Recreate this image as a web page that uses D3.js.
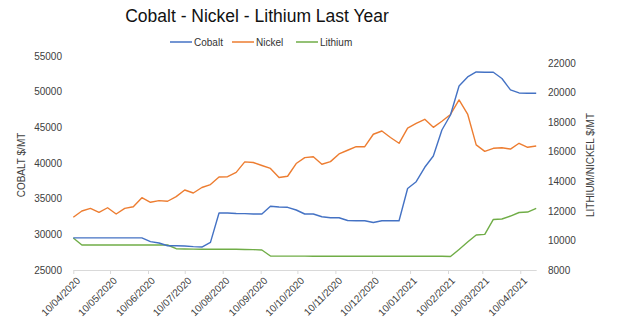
<!DOCTYPE html>
<html>
<head>
<meta charset="utf-8">
<script src="https://cdn.jsdelivr.net/npm/d3@7"></script>
<style>
  html, body { margin: 0; padding: 0; background: #fff; }
  svg { display: block; }
  text { font-family: "Liberation Sans", Arial, sans-serif; fill: #404040; }
</style>
</head>
<body>
<svg id="chart" width="624" height="328"></svg>
<script>
const dates = [
  "2020-04-10","2020-04-17","2020-04-24","2020-05-01","2020-05-08","2020-05-15","2020-05-22","2020-05-29",
  "2020-06-05","2020-06-12","2020-06-19","2020-06-26","2020-07-03","2020-07-10","2020-07-17","2020-07-24","2020-07-31",
  "2020-08-07","2020-08-14","2020-08-21","2020-08-28","2020-09-04","2020-09-11","2020-09-18","2020-09-25",
  "2020-10-02","2020-10-09","2020-10-16","2020-10-23","2020-10-30","2020-11-06","2020-11-13","2020-11-20","2020-11-27",
  "2020-12-04","2020-12-11","2020-12-18","2020-12-25","2021-01-01","2021-01-08","2021-01-15","2021-01-22","2021-01-29",
  "2021-02-05","2021-02-12","2021-02-19","2021-02-26","2021-03-05","2021-03-12","2021-03-19","2021-03-26",
  "2021-04-02","2021-04-09","2021-04-16","2021-04-23"
];
const cobalt = [
  29500,29500,29500,29500,29500,29500,29500,29500,29500,28970,28790,28400,28400,28360,28270,28220,28880,
  33000,33000,32920,32900,32850,32850,33930,33830,33790,33410,32850,32850,32470,32330,32330,31940,31910,
  31910,31660,31910,31910,31910,36430,37380,39400,40980,44630,46730,50800,52060,52760,52720,52720,51850,
  50240,49820,49770,49770
];
const nickel = [
  11565,11990,12170,11900,12210,11790,12170,12280,12890,12580,12690,12650,12960,13410,13210,13580,13780,
  14290,14310,14600,15310,15270,15070,14870,14260,14340,15200,15600,15660,15150,15330,15850,16100,16340,
  16340,17180,17400,16960,16570,17600,17920,18190,17650,18060,18520,19500,18550,16460,16020,16230,16270,
  16180,16570,16300,16390
];
const lithium = [
  10165,9690,9690,9690,9690,9690,9690,9690,9690,9690,9690,9690,9440,9420,9410,9400,9400,
  9400,9400,9400,9390,9380,9350,8950,8940,8940,8940,8940,8930,8930,8930,8930,8930,8930,
  8930,8930,8930,8930,8930,8930,8930,8930,8930,8930,8910,9390,9890,10370,10410,11420,11450,
  11650,11890,11920,12170
];
const xTickLabels = ["10/04/2020","10/05/2020","10/06/2020","10/07/2020","10/08/2020","10/09/2020",
  "10/10/2020","10/11/2020","10/12/2020","10/01/2021","10/02/2021","10/03/2021","10/04/2021"];
const leftTicks = [25000,30000,35000,40000,45000,50000,55000];
const rightTicks = [8000,10000,12000,14000,16000,18000,20000,22000];
const seriesNames = ["Cobalt","Nickel","Lithium"];
const colors = ["#4472C4","#ED7D31","#70AD47"];

const svg = d3.select("#chart");
const parseISO = d3.timeParse("%Y-%m-%d");
const parseTick = d3.timeParse("%d/%m/%Y");
const fmtTick = d3.timeFormat("%d/%m/%Y");
const X = dates.map(parseISO);

const x = d3.scaleTime().domain([X[0], X[X.length-1]]).range([73.3, 536.2]);
const yL = d3.scaleLinear().domain([25000,55000]).range([270,56]);
const yR = d3.scaleLinear().domain([8000,22000]).range([270,63]);

// title
svg.append("text").attr("x", 257).attr("y", 22).attr("text-anchor","middle")
  .style("font-size","17.5px").style("fill","#111").text("Cobalt - Nickel - Lithium Last Year");

// legend
const legX = [170, 232, 296];
seriesNames.forEach((n,i)=>{
  const g = svg.append("g").attr("transform",`translate(${legX[i]},42)`);
  g.append("line").attr("x1",0).attr("x2",22).attr("y1",0).attr("y2",0)
    .attr("stroke",colors[i]).attr("stroke-width",1.5);
  g.append("text").attr("x",24).attr("y",3.5).style("font-size","10px").style("fill","#333").text(n);
});

// x axis
const xAxis = d3.axisBottom(x).tickValues(xTickLabels.map(parseTick)).tickFormat(fmtTick)
  .tickSize(4).tickSizeOuter(0);
const gx = svg.append("g").attr("transform","translate(0,270)").call(xAxis);
gx.select(".domain").attr("stroke","#d9d9d9");
gx.selectAll(".tick line").attr("stroke","#d9d9d9");
gx.selectAll(".tick text").attr("transform","rotate(-45)").attr("text-anchor","end")
  .attr("dx","-0.3em").attr("dy","0.7em").attr("y",6).attr("x",0)
  .style("font-size","10px").style("fill","#404040").style("font-family","Liberation Sans, Arial, sans-serif");

// left axis
const gl = svg.append("g").attr("transform","translate(62,0)")
  .call(d3.axisLeft(yL).tickValues(leftTicks).tickSize(0).tickPadding(0).tickFormat(d3.format("d")));
gl.select(".domain").remove();
gl.selectAll("text").style("font-size","10px").style("fill","#404040").style("font-family","Liberation Sans, Arial, sans-serif");

// right axis
const gr = svg.append("g").attr("transform","translate(548,0)")
  .call(d3.axisRight(yR).tickValues(rightTicks).tickSize(0).tickPadding(0).tickFormat(d3.format("d")));
gr.select(".domain").remove();
gr.selectAll("text").style("font-size","10px").style("fill","#404040").style("font-family","Liberation Sans, Arial, sans-serif");

// axis titles
svg.append("text").attr("transform","translate(25,165) rotate(-90)").attr("text-anchor","middle")
  .style("font-size","10px").style("fill","#404040").text("COBALT $/MT");
svg.append("text").attr("transform","translate(594,165) rotate(-90)").attr("text-anchor","middle")
  .style("font-size","10px").style("fill","#404040").text("LITHIUM/NICKEL $/MT");

// lines
const lineL = d3.line().x((d,i)=>x(X[i])).y(d=>yL(d));
const lineR = d3.line().x((d,i)=>x(X[i])).y(d=>yR(d));
svg.append("path").datum(lithium).attr("d",lineR).attr("fill","none").attr("stroke",colors[2]).attr("stroke-width",1.4).attr("stroke-linejoin","round");
svg.append("path").datum(nickel).attr("d",lineR).attr("fill","none").attr("stroke",colors[1]).attr("stroke-width",1.4).attr("stroke-linejoin","round");
svg.append("path").datum(cobalt).attr("d",lineL).attr("fill","none").attr("stroke",colors[0]).attr("stroke-width",1.4).attr("stroke-linejoin","round");
</script>
</body>
</html>
